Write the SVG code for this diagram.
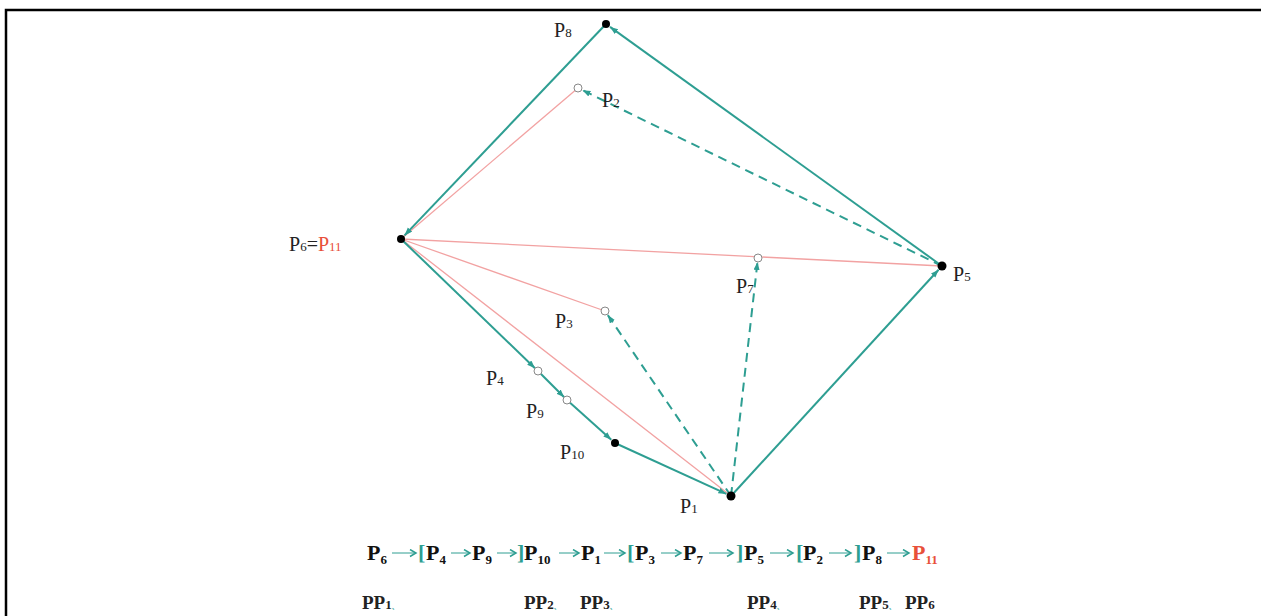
<svg xmlns="http://www.w3.org/2000/svg" width="1261" height="616" viewBox="0 0 1261 616">
<defs>
<marker id="ah" markerWidth="9" markerHeight="7" refX="8" refY="3" orient="auto" markerUnits="userSpaceOnUse"><path d="M0,0 L8,3 L0,6 z" fill="#2e9e92"/></marker>
<marker id="sh" markerWidth="9" markerHeight="9" refX="7" refY="4" orient="auto" markerUnits="userSpaceOnUse"><path d="M1,0.5 L7,4 L1,7.5" fill="none" stroke="#2e9e92" stroke-width="1.5"/></marker>
<style>
.frame{stroke:#000;stroke-width:2.5;fill:none}
.edge{stroke:#2e9e92;stroke-width:2;fill:none}
.sq{stroke:#2e9e92;stroke-width:1;fill:none}
.dash{stroke:#2e9e92;stroke-width:2;fill:none;stroke-dasharray:9 6}
.pink{stroke:#f2a2a2;stroke-width:1.3;fill:none}
.fill{fill:#000}
.open{fill:#fff;stroke:#888;stroke-width:1}
.lbl{font-family:"Liberation Serif",serif;font-size:20px;fill:#222}
.sub{font-size:13px}
.seq{font-family:"Liberation Serif",serif;font-size:22px;font-weight:bold;fill:#111}
.br{font-family:"Liberation Serif",serif;font-size:22px;font-weight:bold;fill:#2e9e92}
.red{fill:#e8503a}
.pp{font-family:"Liberation Serif",serif;font-size:19px;font-weight:bold;fill:#222}
.mk{font-family:"Noto Sans CJK SC",sans-serif;font-size:7px;fill:#5fb8ae}
</style>
</defs>
<path class="frame" d="M6,616 L6,10 L1261,10"/>
<g id="connectors">
<line class="pink" x1="401" y1="239" x2="578" y2="88"/>
<line class="pink" x1="401" y1="239" x2="942" y2="266"/>
<line class="pink" x1="401" y1="239" x2="605" y2="311"/>
<line class="pink" x1="401" y1="239" x2="731" y2="496"/>
<line class="edge" x1="731" y1="496" x2="938.6" y2="269.7" marker-end="url(#ah)"/>
<line class="edge" x1="942" y1="266" x2="610" y2="26.9" marker-end="url(#ah)"/>
<line class="edge" x1="606" y1="24" x2="404.5" y2="235.4" marker-end="url(#ah)"/>
<line class="edge" x1="401" y1="239" x2="535" y2="368.2" marker-end="url(#ah)"/>
<line class="edge" x1="538" y1="371" x2="564.2" y2="397.2" marker-end="url(#ah)"/>
<line class="edge" x1="567" y1="400" x2="611.3" y2="439.7" marker-end="url(#ah)"/>
<line class="edge" x1="615" y1="443" x2="726.4" y2="493.9" marker-end="url(#ah)"/>
<line class="dash" x1="731" y1="496" x2="607.8" y2="315.1" marker-end="url(#ah)"/>
<line class="dash" x1="731" y1="496" x2="757.5" y2="262" marker-end="url(#ah)"/>
<line class="dash" x1="942" y1="266" x2="582.5" y2="90.2" marker-end="url(#ah)"/>
</g>
<g id="P8"><circle class="fill" cx="606" cy="24" r="4"/><text class="lbl" x="554" y="37">P<tspan class="sub">8</tspan></text></g>
<g id="P2"><circle class="open" cx="578" cy="88" r="4"/><text class="lbl" x="602" y="107">P<tspan class="sub">2</tspan></text></g>
<g id="P6"><circle class="fill" cx="401" cy="239" r="4"/><text class="lbl" x="289" y="251">P<tspan class="sub">6</tspan><tspan>=</tspan><tspan class="red">P</tspan><tspan class="sub red">11</tspan></text></g>
<g id="P7"><circle class="open" cx="758" cy="258" r="4"/><text class="lbl" x="736" y="293">P<tspan class="sub">7</tspan></text></g>
<g id="P5"><circle class="fill" cx="942" cy="266" r="4.5"/><text class="lbl" x="953" y="281">P<tspan class="sub">5</tspan></text></g>
<g id="P3"><circle class="open" cx="605" cy="311" r="4"/><text class="lbl" x="555" y="328">P<tspan class="sub">3</tspan></text></g>
<g id="P4"><circle class="open" cx="538" cy="371" r="4"/><text class="lbl" x="486" y="385">P<tspan class="sub">4</tspan></text></g>
<g id="P9"><circle class="open" cx="567" cy="400" r="4"/><text class="lbl" x="526" y="418">P<tspan class="sub">9</tspan></text></g>
<g id="P10"><circle class="fill" cx="615" cy="443" r="4"/><text class="lbl" x="560" y="459">P<tspan class="sub">10</tspan></text></g>
<g id="P1"><circle class="fill" cx="731" cy="496" r="4.5"/><text class="lbl" x="680" y="513">P<tspan class="sub">1</tspan></text></g>
<g id="sequence">
<text class="seq" x="367" y="560">P<tspan class="sub" dy="4">6</tspan></text>
<line class="sq" x1="392" y1="553" x2="416" y2="553" marker-end="url(#sh)"/>
<text class="br" x="418" y="560">[</text>
<text class="seq" x="426" y="560">P<tspan class="sub" dy="4">4</tspan></text>
<line class="sq" x1="451" y1="553" x2="470" y2="553" marker-end="url(#sh)"/>
<text class="seq" x="472" y="560">P<tspan class="sub" dy="4">9</tspan></text>
<line class="sq" x1="497" y1="553" x2="516" y2="553" marker-end="url(#sh)"/>
<text class="br" x="517" y="560">]</text>
<text class="seq" x="524" y="560">P<tspan class="sub" dy="4">10</tspan></text>
<line class="sq" x1="559" y1="553" x2="579" y2="553" marker-end="url(#sh)"/>
<text class="seq" x="581" y="560">P<tspan class="sub" dy="4">1</tspan></text>
<line class="sq" x1="604" y1="553" x2="625" y2="553" marker-end="url(#sh)"/>
<text class="br" x="627" y="560">[</text>
<text class="seq" x="635" y="560">P<tspan class="sub" dy="4">3</tspan></text>
<line class="sq" x1="661" y1="553" x2="681" y2="553" marker-end="url(#sh)"/>
<text class="seq" x="683" y="560">P<tspan class="sub" dy="4">7</tspan></text>
<line class="sq" x1="709" y1="553" x2="733" y2="553" marker-end="url(#sh)"/>
<text class="br" x="736" y="560">]</text>
<text class="seq" x="744" y="560">P<tspan class="sub" dy="4">5</tspan></text>
<line class="sq" x1="770" y1="553" x2="793" y2="553" marker-end="url(#sh)"/>
<text class="br" x="796" y="560">[</text>
<text class="seq" x="803" y="560">P<tspan class="sub" dy="4">2</tspan></text>
<line class="sq" x1="829" y1="553" x2="851" y2="553" marker-end="url(#sh)"/>
<text class="br" x="854" y="560">]</text>
<text class="seq" x="862" y="560">P<tspan class="sub" dy="4">8</tspan></text>
<line class="sq" x1="887" y1="553" x2="909" y2="553" marker-end="url(#sh)"/>
<text class="seq red" x="912" y="560">P<tspan class="sub" dy="4">11</tspan></text>
</g>
<g id="pp">
<text class="pp" x="362" y="609">PP<tspan class="sub">1</tspan><tspan class="mk">、</tspan></text>
<text class="pp" x="524" y="609">PP<tspan class="sub">2</tspan><tspan class="mk">、</tspan></text>
<text class="pp" x="580" y="609">PP<tspan class="sub">3</tspan><tspan class="mk">、</tspan></text>
<text class="pp" x="747" y="609">PP<tspan class="sub">4</tspan><tspan class="mk">、</tspan></text>
<text class="pp" x="859" y="609">PP<tspan class="sub">5</tspan><tspan class="mk">、</tspan></text>
<text class="pp red" x="905" y="609">PP<tspan class="sub">6</tspan></text>
</g>
</svg>
